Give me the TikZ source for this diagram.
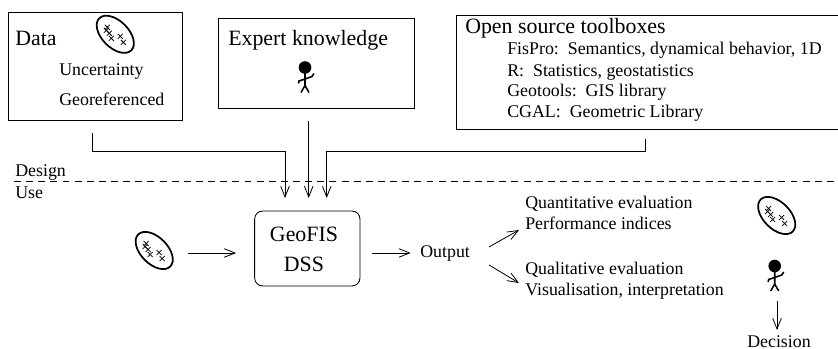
\documentclass[tikz,border=0pt]{standalone}
\usepackage{fontspec}
\setmainfont{Liberation Serif}
\usetikzlibrary{arrows.meta, shapes.geometric}

\tikzset{
  big/.style={anchor=base west, inner sep=0pt, font=\fontsize{16.4}{18}\selectfont},
  small/.style={anchor=base west, inner sep=0pt, font=\fontsize{13.4}{15}\selectfont},
  box/.style={draw, line width=.65pt, inner sep=0pt},
  flow/.style={->, line width=.6pt},
  cloudshape/.style={draw, ellipse, rotate=-45, line width=1.3pt, inner sep=0pt, minimum width=34pt, minimum height=20pt},
  pics/points/.style={code={
    \foreach \cx/\cy in {-8/-7, -9/-4, -6/-1, -4/4, 5/2, 8/8}
      \draw[line width=.55pt] (\cx-2.5,\cy-2.5) -- (\cx+2.5,\cy+2.5) (\cx-2.5,\cy+2.5) -- (\cx+2.5,\cy-2.5);
  }},
  pics/person/.style={code={
    \fill (0,0) circle (6.3);
    \draw[line width=1.2pt] (0,4) -- (0,18) (-4,25) -- (0,18) -- (4,25);
    \draw[line width=1.2pt] (-6.5,16) -- (-6,13.5) -- (0,11.5) -- (7,9) -- (9,6);
  }}
}

\begin{document}
\begin{tikzpicture}[x=.75pt, y=-.75pt, >={Straight Barb[length=8pt, width=6.4pt]}]
  \useasboundingbox (0,0) rectangle (838,349);

  % Boxes
  \node[box, minimum width=131pt, minimum height=81pt] (data) at (95.3,66.7) {};
  \node[box, minimum width=147pt, minimum height=67.5pt] (expert) at (316.7,63.7) {};
  \node[box, minimum width=290pt, minimum height=85.7pt] (tools) at (649.3,72.8) {};
  \node[box, rounded corners=6pt, minimum width=79pt, minimum height=56.2pt] (dss) at (307.3,248.5) {};

  % Design part
  \node[big] (dataTitle) at (15,46) {Data};
  \node[small] (uncertainty) at (59,76) {Uncertainty};
  \node[small] (georef) at (59,105.7) {Georeferenced};
  \node[big] (expertTitle) at (228,46) {Expert knowledge};
  \node[big] (toolsTitle) at (465,34) {Open source toolboxes};
  \node[small] (fispro) at (507,55) {FisPro:\ \ Semantics, dynamical behavior, 1D};
  \node[small] (rlang) at (507,76.5) {R:\ \ Statistics, geostatistics};
  \node[small] (geotools) at (507,97) {Geotools:\ \ GIS library};
  \node[small] (cgal) at (507,118) {CGAL:\ \ Geometric Library};

  \node[cloudshape] (cloudData) at (115.3,34.3) {};
  \pic at (115.3,34.3) {points};
  \pic at (305,67.5) {person};

  % Separation
  \node[small] (design) at (15,176) {Design};
  \node[small] (use) at (15,198) {Use};
  \coordinate (sepL) at (14,181);
  \coordinate (sepR) at (838,181);
  \draw[line width=.6pt, dash pattern=on 5.2pt off 3.9pt] (sepL) -- (sepR);

  % Use part
  \node[big, anchor=base] (geofis) at (304,241) {GeoFIS};
  \node[big, anchor=base] (dsslabel) at (304,271) {DSS};
  \node[cloudshape] (cloudIn) at (154.2,250.5) {};
  \pic at (154.2,250.5) {points};
  \node[small] (output) at (420,257) {Output};
  \node[small] (quanti) at (525,208) {Quantitative evaluation};
  \node[small] (perf) at (525,229) {Performance indices};
  \node[small] (quali) at (525,274) {Qualitative evaluation};
  \node[small] (visu) at (525,295) {Visualisation, interpretation};
  \node[cloudshape] (cloudOut) at (776.7,215.5) {};
  \pic at (776.7,215.5) {points};
  \pic at (774.7,266) {person};
  \node[small, anchor=base] (decision) at (779,347) {Decision};

  % Ends of the connectors
  \coordinate (dataOut) at (92,133);
  \coordinate (dataIn) at (285,198);
  \coordinate (expertOut) at (308.7,121);
  \coordinate (expertIn) at (308.7,198);
  \coordinate (toolsOut) at (645.3,139);
  \coordinate (toolsIn) at (326.7,198);
  \coordinate (cloudOutEnd) at (188,253);
  \coordinate (dssIn) at (236,253);
  \coordinate (dssOut) at (372,253);
  \coordinate (outputIn) at (410.7,253);
  \coordinate (upStart) at (489,247);
  \coordinate (upEnd) at (519,230);
  \coordinate (downStart) at (489,265);
  \coordinate (downEnd) at (519,283);
  \coordinate (personOut) at (777,301);
  \coordinate (decisionIn) at (777,330);

  \draw[flow] (dataOut) -- (92,151) -| (dataIn);
  \draw[flow] (expertOut) -- (expertIn);
  \draw[flow] (toolsOut) -- (645.3,151) -| (toolsIn);
  \draw[flow] (cloudOutEnd) -- (dssIn);
  \draw[flow] (dssOut) -- (outputIn);
  \draw[flow] (upStart) -- (upEnd);
  \draw[flow] (downStart) -- (downEnd);
  \draw[flow] (personOut) -- (decisionIn);
\end{tikzpicture}
\end{document}
